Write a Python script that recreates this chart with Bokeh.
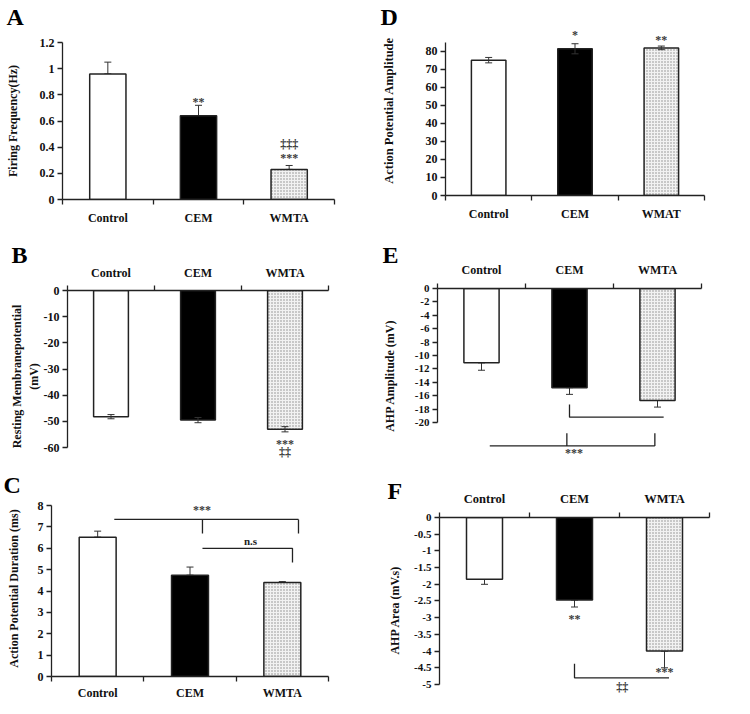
from bokeh.plotting import figure
from bokeh.layouts import column, row
from bokeh.models import (ColumnDataSource, FixedTicker, Whisker, TeeHead, Label,
                          Range1d, LinearAxis, Title)
from bokeh.embed import file_html
from bokeh.resources import INLINE

FONT = "Liberation Serif"

# ---------------- data ----------------
groups = ["Control", "CEM", "WMTA"]
groups_D = ["Control", "CEM", "WMAT"]

# A: firing frequency (Hz)
fire_freq = [0.96, 0.64, 0.23]
fire_freq_err = [0.09, 0.08, 0.03]
A_yticks = [0, 0.2, 0.4, 0.6, 0.8, 1.0, 1.2]
A_ylabels = ["0", "0.2", "0.4", "0.6", "0.8", "1", "1.2"]

# D: action potential amplitude
ap_amp = [75.0, 81.3, 81.8]
ap_amp_err = [1.5, 2.8, 1.0]
D_yticks = [0, 10, 20, 30, 40, 50, 60, 70, 80]
D_ylabels = ["0", "10", "20", "30", "40", "50", "60", "70", "80"]

# B: resting membrane potential (mV)
rmp = [-48.2, -49.5, -53.0]
rmp_err = [0.8, 1.0, 1.0]
B_yticks = [0, -10, -20, -30, -40, -50, -60]
B_ylabels = ["0", "-10", "-20", "-30", "-40", "-50", "-60"]

# E: AHP amplitude (mV)
ahp_amp = [-11.1, -14.8, -16.7]
ahp_amp_err = [1.1, 1.0, 1.0]
E_yticks = [0, -2, -4, -6, -8, -10, -12, -14, -16, -18, -20]
E_ylabels = ["0", "-2", "-4", "-6", "-8", "-10", "-12", "-14", "-16", "-18", "-20"]

# C: action potential duration (ms)
ap_dur = [6.52, 4.74, 4.40]
ap_dur_err = [0.28, 0.38, 0.04]
C_yticks = [0, 1, 2, 3, 4, 5, 6, 7, 8]
C_ylabels = ["0", "1", "2", "3", "4", "5", "6", "7", "8"]

# F: AHP area (mV.s)
ahp_area = [-1.85, -2.47, -4.0]
ahp_area_err = [0.15, 0.21, 0.5]
F_yticks = [0, -0.5, -1, -1.5, -2, -2.5, -3, -3.5, -4, -4.5, -5]
F_ylabels = ["0", "-0.5", "-1", "-1.5", "-2", "-2.5", "-3", "-3.5", "-4", "-4.5", "-5"]

# significance marks: (x, y, text)
A_marks = [(1.5, 0.749, "**"), (2.5, 0.321, "***"), (2.5, 0.426, "\u2021\u2021\u2021")]
D_marks = [(1.5, 88.7, "*"), (2.5, 85.9, "**")]
B_marks = [(2.5, -58.5, "***"), (2.5, -61.7, "\u2021\u2021")]
E_marks = [(1.55, -24.5, "***")]
C_marks = [(1.63, 7.81, "***")]
C_ns = [(2.155, 6.36, "n.s")]
F_marks = [(1.5, -3.04, "**"), (2.5, -4.64, "***"), (2.03, -5.07, "\u2021\u2021")]

# comparison brackets
E_br_xs = [[1.5, 1.5, 2.57], [0.594, 2.47], [1.47, 1.47], [2.47, 2.47]]
E_br_ys = [[-17.3, -19.2, -19.2], [-23.5, -23.5], [-21.6, -23.5], [-21.6, -23.5]]
C_br_xs = [[0.68, 2.675], [1.635, 1.635], [2.675, 2.675], [1.635, 2.61, 2.61]]
C_br_ys = [[7.35, 7.35], [7.35, 6.69], [7.35, 6.69], [5.99, 5.99, 5.33]]
F_br_xs = [[1.5, 1.5, 2.55]]
F_br_ys = [[-4.38, -4.8, -4.8]]

FILLS = ["white", "black", "#f2f2f2"]
HATCH = [" ", " ", "dot"]
INK = "#222222"
MARK = "#3a3a3a"


def make_panel(cats, vals, errs, yticks, ylabels, ylabel, y_range, y_bounds, xloc,
               size, borders, tick_size, xlab_size, xlab_standoff, ylab_size,
               ylab_standoff, two_sided):
    w, h = size
    bl, br, bt, bb = borders
    n = len(cats)
    p = figure(width=w, height=h, x_range=Range1d(0, n), y_range=Range1d(*y_range),
               output_backend="svg", toolbar_location=None,
               x_axis_location=None, y_axis_location=None,
               min_border_left=bl, min_border_right=br,
               min_border_top=bt, min_border_bottom=bb)
    p.frame_align = False
    p.outline_line_color = None
    p.background_fill_color = "white"
    p.border_fill_color = "white"
    p.xgrid.visible = False
    p.ygrid.visible = False

    xs = [i + 0.5 for i in range(n)]
    up, lo = [], []
    for v, e in zip(vals, errs):
        if v >= 0:
            up.append(v + e)
            lo.append(v - e if two_sided else v)
        else:
            lo.append(v - e)
            up.append(v + e if two_sided else v)
    src = ColumnDataSource(dict(x=xs, top=vals, upper=up, lower=lo,
                                fill=FILLS, hatch=HATCH))
    p.add_layout(Whisker(source=src, base="x", upper="upper", lower="lower",
                         line_color="#333333", line_width=1,
                         level="overlay" if two_sided else "underlay",
                         upper_head=TeeHead(size=7, line_color="#333333", line_width=1),
                         lower_head=TeeHead(size=7, line_color="#333333", line_width=1)))
    p.vbar(x="x", top="top", bottom=0, width=0.4, source=src, fill_color="fill",
           line_color=INK, line_width=1.5, hatch_pattern="hatch",
           hatch_color="#8a8a8a", hatch_scale=3, hatch_weight=1)

    xax = LinearAxis(ticker=FixedTicker(ticks=xs, minor_ticks=list(range(n + 1))),
                     major_label_overrides={x: c for x, c in zip(xs, cats)})
    xax.major_tick_in = 0
    xax.major_tick_out = 0
    xax.minor_tick_in = 0
    xax.minor_tick_out = 5
    xax.axis_line_color = INK
    xax.axis_line_width = 1.3
    xax.minor_tick_line_color = INK
    xax.minor_tick_line_width = 1.3
    xax.major_label_standoff = xlab_standoff
    xax.major_label_text_font = FONT
    xax.major_label_text_font_style = "bold"
    xax.major_label_text_font_size = xlab_size
    xax.major_label_text_color = "#111111"
    p.add_layout(xax, xloc)

    yax = LinearAxis(ticker=FixedTicker(ticks=yticks, minor_ticks=[]),
                     major_label_overrides=dict(zip(yticks, ylabels)),
                     bounds=y_bounds, axis_label=ylabel)
    yax.major_tick_in = 0
    yax.major_tick_out = 5
    yax.minor_tick_out = 0
    yax.axis_line_color = INK
    yax.axis_line_width = 1.3
    yax.major_tick_line_color = INK
    yax.major_tick_line_width = 1.3
    yax.major_label_standoff = 3
    yax.major_label_text_font = FONT
    yax.major_label_text_font_style = "bold"
    yax.major_label_text_font_size = tick_size
    yax.major_label_text_color = "#111111"
    yax.axis_label_text_font = FONT
    yax.axis_label_text_font_style = "bold"
    yax.axis_label_text_font_size = ylab_size
    yax.axis_label_text_color = "#111111"
    yax.axis_label_standoff = ylab_standoff
    p.add_layout(yax, "left")
    return p


def add_letter(p, letter, offset, standoff, spacer=None, size="24px"):
    if spacer is not None:
        p.add_layout(Title(text=" ", text_font_size="1px", standoff=spacer), "above")
    p.add_layout(Title(text=letter, text_font=FONT, text_font_style="bold",
                       text_font_size=size, text_color="black", align="left",
                       offset=offset, standoff=standoff, vertical_align="bottom"),
                 "above")


def add_marks(p, marks, color=MARK, size="12px"):
    for x, y, t in marks:
        p.add_layout(Label(x=x, y=y, text=t, text_font=FONT, text_font_style="bold",
                           text_font_size=size, text_color=color,
                           text_align="center", text_baseline="middle"))


pA = make_panel(groups, fire_freq, fire_freq_err, A_yticks, A_ylabels,
                "Firing Frequency(Hz)", (0, 1.2), (0, 1.2), "below", (375, 235),
                (62, 41, 42, 36), "12px", "12px", 6, "12px", 17, False)
add_marks(pA, A_marks)
add_letter(pA, "A", -56, -6, spacer=13)

pD = make_panel(groups_D, ap_amp, ap_amp_err, D_yticks, D_ylabels,
                "Action Potential Amplitude", (0, 94.2), (0, 85), "below", (367, 235),
                (70, 38, 25, 40), "12px", "12px", 6, "12.5px", 27, True)
add_marks(pD, D_marks)
add_letter(pD, "D", -65, -8)

pB = make_panel(groups, rmp, rmp_err, B_yticks, B_ylabels,
                "Resting Membranepotential\n(mV)", (-65.7, 0), (-60, 0), "above", (375, 227),
                (67, 47, 55, 0), "12px", "12px", 6, "12px", 0, True)
add_marks(pB, B_marks)
add_letter(pB, "B", -56, -10)

pE = make_panel(groups, ahp_amp, ahp_amp_err, E_yticks, E_ylabels,
                "AHP Amplitude (mV)", (-25.97, 0), (-20, 0), "above", (367, 227),
                (62, 41, 53, 0), "11px", "12px", 7, "12px", 15, False)
pE.multi_line(xs=E_br_xs, ys=E_br_ys, line_color=INK, line_width=1.3)
add_marks(pE, E_marks)
add_letter(pE, "E", -55, -16)

pC = make_panel(groups, ap_dur, ap_dur_err, C_yticks, C_ylabels,
                "Action Potential Duration (ms)", (0, 8.234), (0, 8), "below", (375, 244),
                (51, 47, 38, 30), "12px", "12px", 4, "12px", 14, False)
pC.multi_line(xs=C_br_xs, ys=C_br_ys, line_color=INK, line_width=1.3)
add_marks(pC, C_marks)
add_marks(pC, C_ns, color="#222222", size="11px")
add_letter(pC, "C", -48, 6)

pF = make_panel(groups, ahp_area, ahp_area_err, F_yticks, F_ylabels,
                "AHP Area (mV.s)", (-5.539, 0), (-5, 0), "above", (367, 244),
                (64, 33, 55, 4), "11px", "12.5px", 7, "12px", 9, False)
pF.multi_line(xs=F_br_xs, ys=F_br_ys, line_color=INK, line_width=1.3)
add_marks(pF, F_marks)
add_letter(pF, "F", -52, -30)

layout = column(row(pA, pD), row(pB, pE), row(pC, pF))

open("out.html", "w").write(file_html(layout, INLINE))
